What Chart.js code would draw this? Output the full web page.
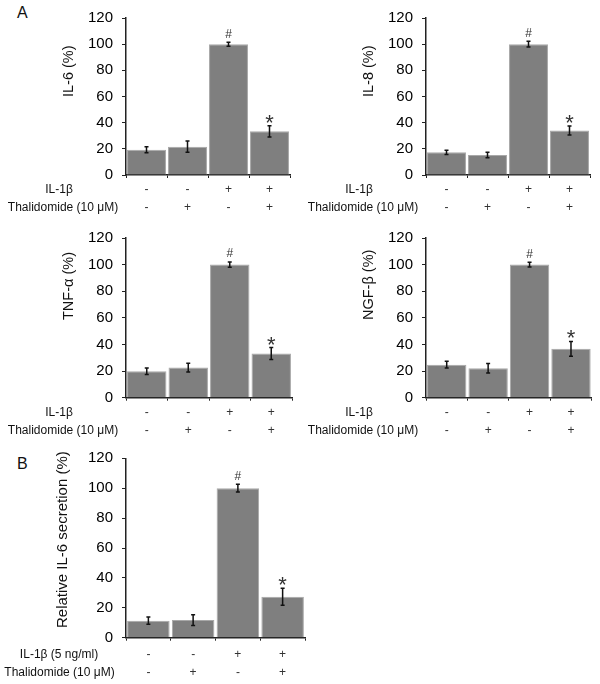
<!DOCTYPE html>
<html>
<head>
<meta charset="utf-8">
<script src="https://cdn.jsdelivr.net/npm/chart.js@4"></script>
<style>
  body { margin: 0; background: #fff; }
  #fig { position: relative; width: 600px; height: 684px; font-family: "Liberation Sans", Arial, sans-serif; }
  canvas { position: absolute; }
  .tag { position: absolute; font-size: 16px; color: #111; }
</style>
</head>
<body>
<div id="fig">
  <div class="tag" style="left:17px; top:4px;">A</div>
  <div class="tag" style="left:17px; top:455px;">B</div>
  <canvas id="c1" width="300" height="220" style="left:0; top:0;"></canvas>
  <canvas id="c2" width="300" height="220" style="left:300px; top:0;"></canvas>
  <canvas id="c3" width="300" height="220" style="left:0; top:220px;"></canvas>
  <canvas id="c4" width="300" height="220" style="left:300px; top:220px;"></canvas>
  <canvas id="c5" width="320" height="244" style="left:0; top:440px;"></canvas>
</div>
<script>
// treatment rows under each bar
const il1bRow = ['-', '-', '+', '+'];
const thalRow = ['-', '+', '-', '+'];
const marks = ['', '', '#', '*'];

// panel A
const il6 = [19.3, 21.6, 100, 33.4];
const il6Err = [2.2, 4.3, 1.5, 4.3];
const il8 = [17.3, 15.3, 100, 34];
const il8Err = [1.7, 2.1, 2.2, 3.4];
const tnf = [19.9, 22.6, 100, 33.2];
const tnfErr = [2.5, 3.3, 2, 4.5];
const ngf = [24.8, 22.1, 100, 36.7];
const ngfErr = [2.5, 3.6, 1.8, 5.6];

// panel B
const il6B = [11.4, 11.8, 100, 27.4];
const il6BErr = [2.4, 3.6, 2.6, 5.7];

const yMax = 120;
const yStep = 20;

const FONT = '"Liberation Sans", Arial, sans-serif';
const labels = il1bRow.map((s, i) => [s, thalRow[i]]);

const extras = {
  id: 'extras',
  afterDatasetsDraw(chart, args, o) {
    const ctx = chart.ctx;
    const y = chart.scales.y;
    const meta = chart.getDatasetMeta(0);
    const vals = chart.data.datasets[0].data;
    ctx.save();
    ctx.strokeStyle = '#111';
    ctx.lineWidth = 1.5;
    meta.data.forEach((bar, i) => {
      const top = y.getPixelForValue(vals[i] + o.err[i]);
      const bot = y.getPixelForValue(vals[i] - o.err[i]);
      ctx.beginPath();
      ctx.moveTo(bar.x, top); ctx.lineTo(bar.x, bot);
      ctx.moveTo(bar.x - 2, top); ctx.lineTo(bar.x + 2, top);
      ctx.moveTo(bar.x - 2, bot); ctx.lineTo(bar.x + 2, bot);
      ctx.stroke();
      ctx.fillStyle = '#333';
      ctx.textAlign = 'center';
      ctx.textBaseline = 'middle';
      if (marks[i] === '#') {
        ctx.font = '12px ' + FONT;
        ctx.fillText('#', bar.x, top - 8);
      } else if (marks[i] === '*') {
        ctx.font = '22px ' + FONT;
        ctx.fillText('*', bar.x, top - 2);
      }
    });
    ctx.restore();
  },
  afterDraw(chart, args, o) {
    const ctx = chart.ctx;
    const x = chart.scales.x;
    ctx.save();
    // y axis title
    ctx.translate(o.titleX, o.titleY);
    ctx.rotate(-Math.PI / 2);
    ctx.font = o.titleSize + 'px ' + FONT;
    ctx.fillStyle = '#111';
    ctx.textAlign = 'left';
    ctx.textBaseline = 'middle';
    ctx.fillText(o.title, 0, 0);
    ctx.restore();
    // row headers
    ctx.save();
    ctx.font = '12px ' + FONT;
    ctx.fillStyle = '#111';
    ctx.textAlign = 'center';
    ctx.textBaseline = 'middle';
    const first = x.top + 3 + o.pad + o.lh / 2;
    o.rows.forEach((r, i) => ctx.fillText(r, o.rowX[i], first + i * o.lh));
    ctx.restore();
  }
};

function makeChart(id, data, err, p) {
  return new Chart(document.getElementById(id), {
    type: 'bar',
    data: {
      labels: labels,
      datasets: [{
        data: data,
        backgroundColor: '#7f7f7f',
        borderColor: '#a8a8a8',
        borderWidth: 1,
        categoryPercentage: 1,
        barPercentage: 0.95
      }]
    },
    options: {
      responsive: false,
      animation: false,
      layout: { padding: { top: p.top, right: p.right, left: 0, bottom: 0 } },
      plugins: {
        legend: { display: false },
        tooltip: { enabled: false },
        extras: {
          err: err, title: p.title, titleX: p.titleX, titleY: p.titleY, titleSize: p.titleSize,
          rows: p.rows, rowX: p.rowX, pad: p.pad, lh: p.lh
        }
      },
      scales: {
        x: {
          afterFit: s => { s.height = p.xh; },
          border: { color: '#222', width: 1.5 },
          grid: { drawOnChartArea: false, drawTicks: true, tickLength: 3, color: '#222', offset: true },
          ticks: { color: '#333', padding: p.pad, maxRotation: 0, autoSkip: false,
                   font: { family: FONT, size: 12, lineHeight: p.lh + 'px' } }
        },
        y: {
          min: 0, max: yMax,
          afterFit: s => { s.width = 126; },
          border: { color: '#222', width: 1.5 },
          grid: { drawOnChartArea: false, drawTicks: true, tickLength: 4, color: '#222' },
          ticks: { stepSize: yStep, color: '#000', padding: 9, font: { family: FONT, size: 15 } }
        }
      }
    },
    plugins: [extras]
  });
}

const rowsA = ['IL-1β', 'Thalidomide (10 μM)'];
makeChart('c1', il6, il6Err, { top: 13, right: 10, xh: 45, pad: 3, lh: 18,
  title: 'IL-6 (%)', titleX: 69, titleY: 97, titleSize: 14.5, rows: rowsA, rowX: [59, 63] });
makeChart('c2', il8, il8Err, { top: 13, right: 10, xh: 45, pad: 3, lh: 18,
  title: 'IL-8 (%)', titleX: 69, titleY: 97, titleSize: 14.5, rows: rowsA, rowX: [59, 63] });
makeChart('c3', tnf, tnfErr, { top: 15, right: 8, xh: 42.3, pad: 3, lh: 18,
  title: 'TNF-α (%)', titleX: 68.5, titleY: 100, titleSize: 14.5, rows: rowsA, rowX: [59, 63] });
makeChart('c4', ngf, ngfErr, { top: 15, right: 8.3, xh: 42.3, pad: 3, lh: 18,
  title: 'NGF-β (%)', titleX: 68.5, titleY: 100, titleSize: 14.5, rows: rowsA, rowX: [59, 63] });
makeChart('c5', il6B, il6BErr, { top: 18.3, right: 15, xh: 46.3, pad: 5, lh: 18.3,
  title: 'Relative IL-6 secretion (%)', titleX: 63, titleY: 188, titleSize: 15,
  rows: ['IL-1β (5 ng/ml)', 'Thalidomide (10 μM)'], rowX: [59, 59.5] });
</script>
</body>
</html>
